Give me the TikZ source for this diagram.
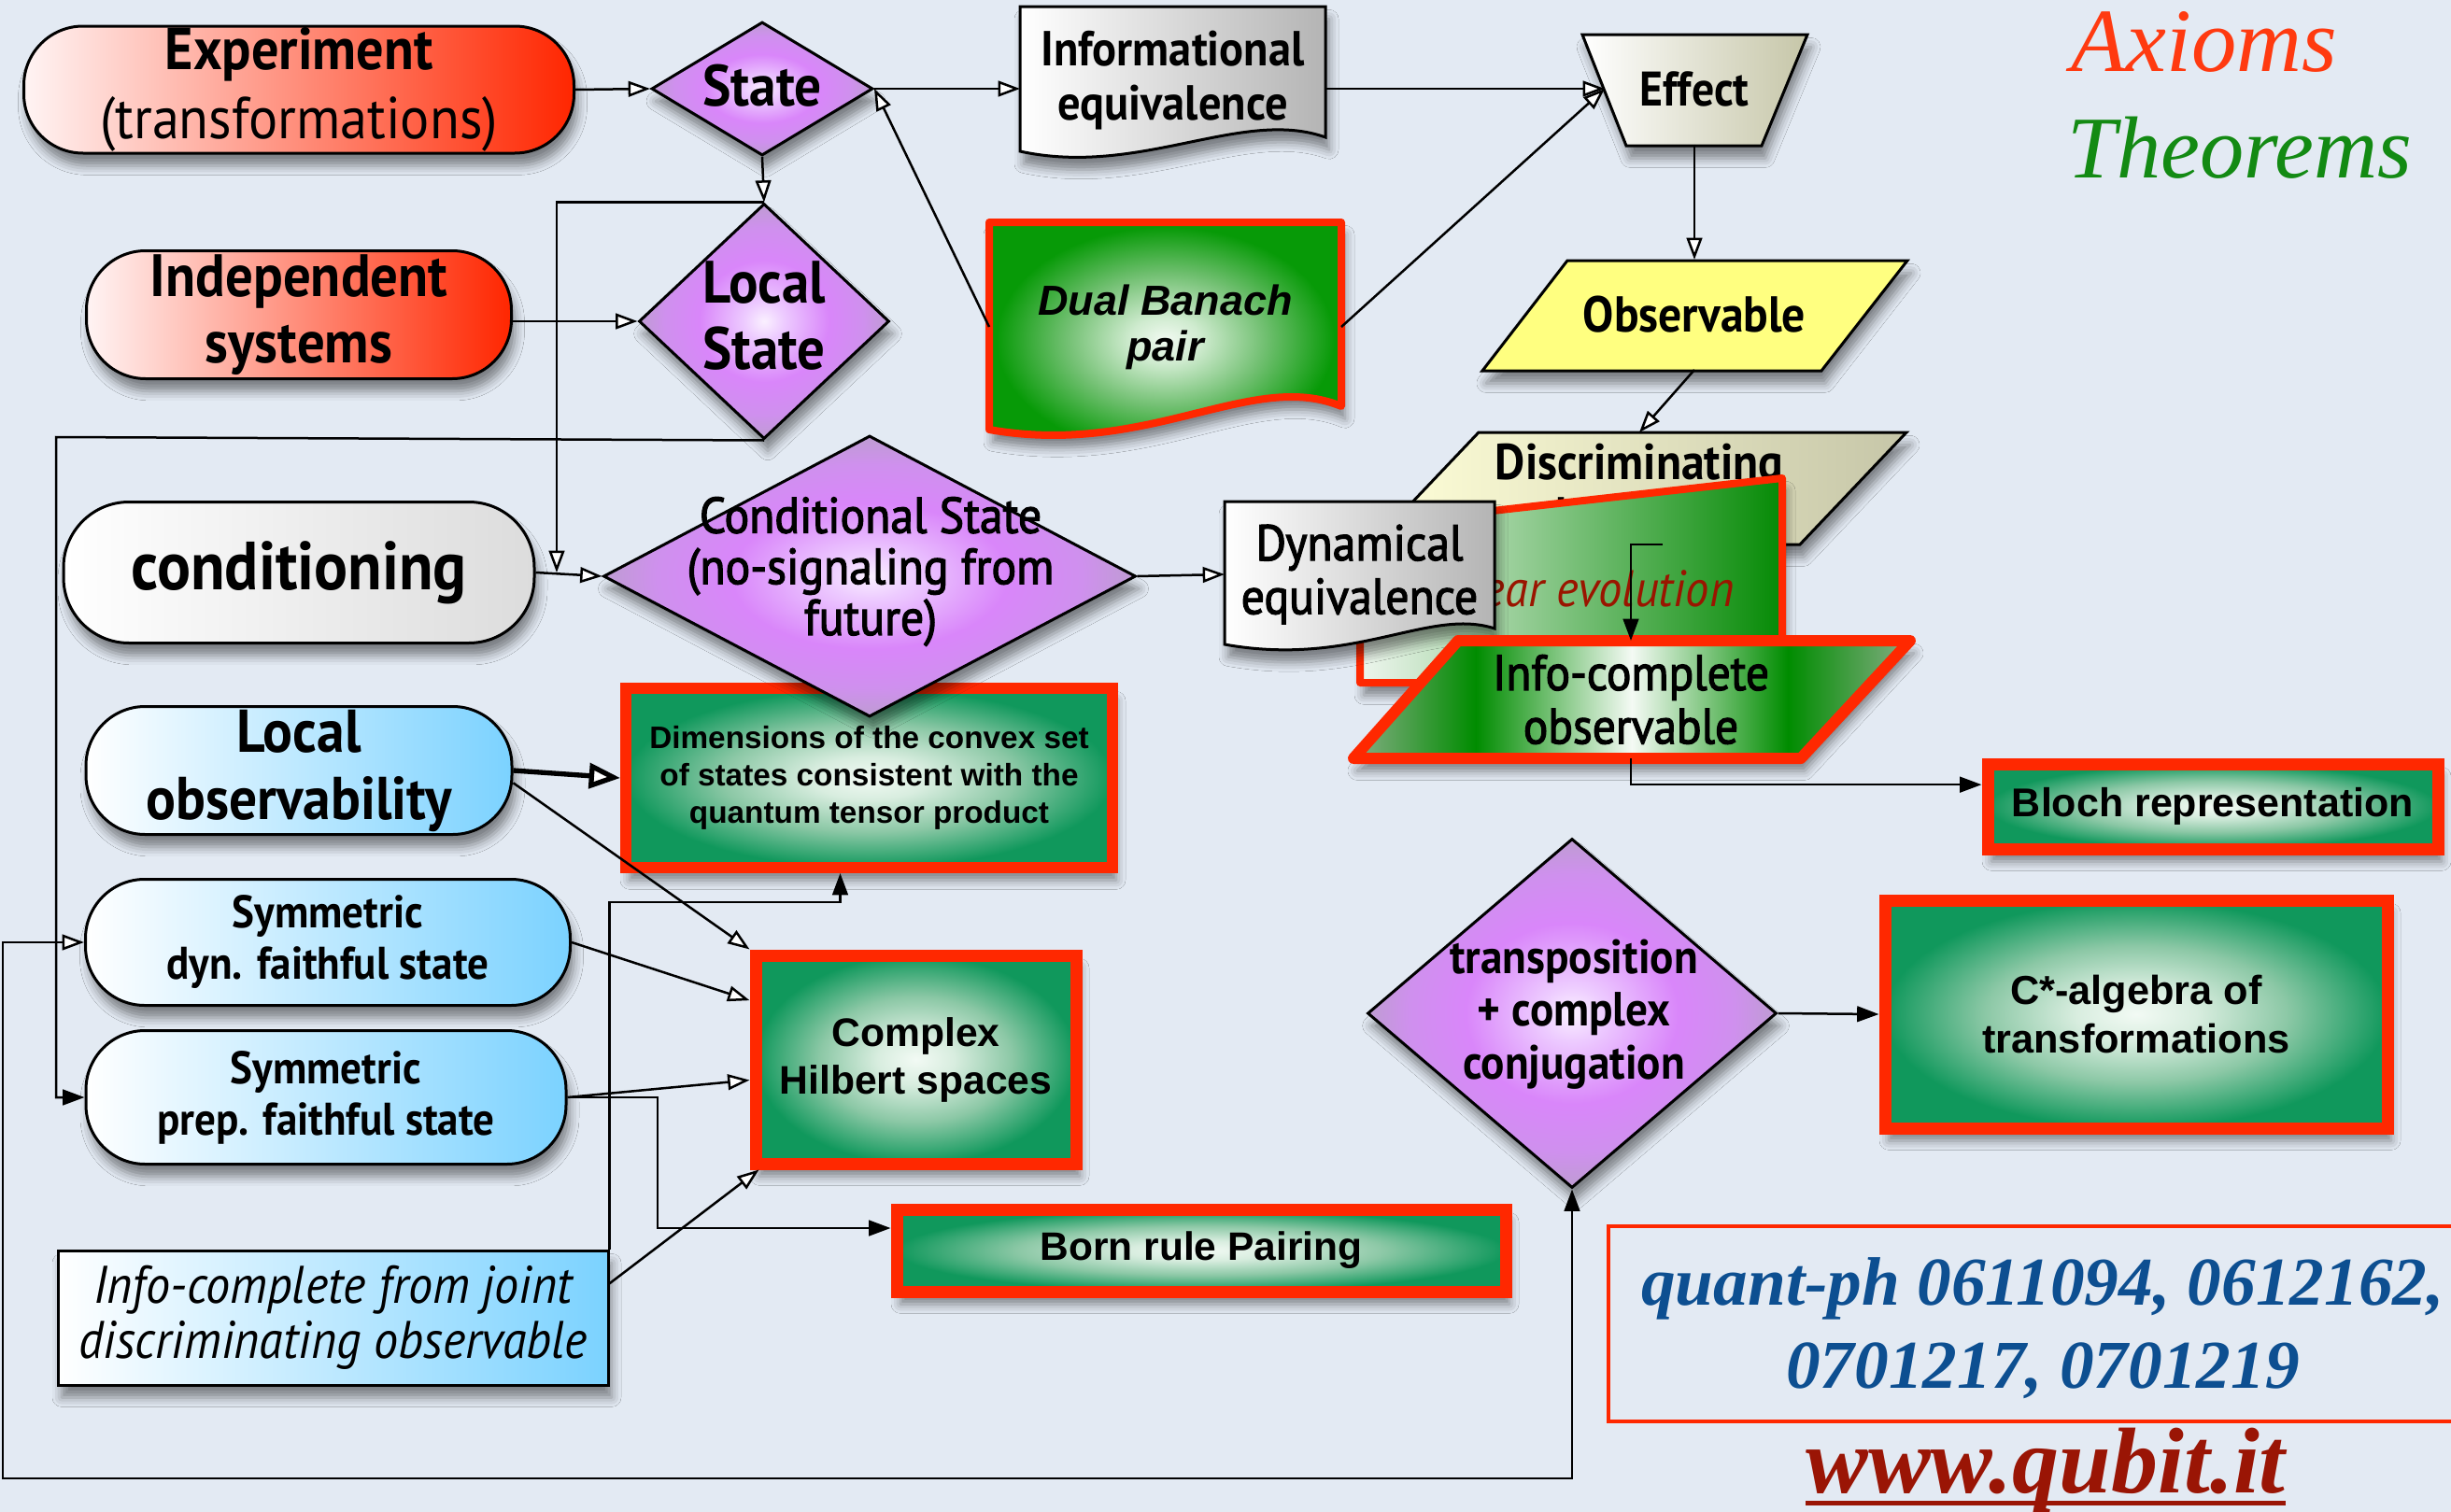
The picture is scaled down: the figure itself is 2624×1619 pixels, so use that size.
\documentclass[tikz,border=0pt]{standalone}
\usepackage{fontspec}
\setmainfont{PT Sans}
\newfontfamily\hum[FakeStretch=0.92]{PT Sans}
\newfontfamily\humm[FakeStretch=0.92,FakeBold=2.2]{PT Sans}
\newfontfamily\ari{Liberation Sans}
\newfontfamily\ser{Liberation Serif}
\usetikzlibrary{shapes.geometric,arrows.meta,shadows.blur}
\newcommand{\fsz}[2]{\fontsize{#1}{#2}\selectfont}
\definecolor{bgc}{HTML}{E3EAF3}
\definecolor{redb}{HTML}{FF2800}
\definecolor{redA}{HTML}{FFF4F4}
\definecolor{redZ}{HTML}{FF2600}
\definecolor{blueZ}{HTML}{7BD2FF}
\definecolor{grayZ}{HTML}{DCDCDC}
\definecolor{grayD}{HTML}{B4B4B4}
\definecolor{yelA}{HTML}{FFFF80}
\definecolor{yelG}{HTML}{C6C6A8}
\definecolor{yelP}{HTML}{FFFFD8}
\definecolor{yelM}{HTML}{FFFF88}
\definecolor{purpA}{HTML}{FAF0FF}
\definecolor{purpB}{HTML}{EDCBFF}
\definecolor{purpC}{HTML}{D986FA}
\definecolor{purpD}{HTML}{CF90EE}
\definecolor{purpE}{HTML}{BE9CD2}
\definecolor{grA}{HTML}{F2FAF4}
\definecolor{grB}{HTML}{D8EDDF}
\definecolor{grC}{HTML}{8CC8A6}
\definecolor{grD}{HTML}{10985C}
\definecolor{gdA}{HTML}{F2FAF2}
\definecolor{gdB}{HTML}{CFEBCF}
\definecolor{gdC}{HTML}{72C072}
\definecolor{gdD}{HTML}{079A07}
\definecolor{icE}{HTML}{86AE86}
\definecolor{icD}{HTML}{008C00}
\definecolor{icW}{HTML}{F4FAF4}
\definecolor{lvA}{HTML}{EEF6EE}
\definecolor{lvZ}{HTML}{058A05}
\definecolor{axc}{HTML}{FF3A10}
\definecolor{thc}{HTML}{138A13}
\definecolor{qpc}{HTML}{0D4F91}
\definecolor{urlc}{HTML}{9A1505}
\definecolor{evc}{HTML}{9A1500}
\pgfdeclareradialshading{purp}{\pgfpoint{0bp}{0bp}}{color(0bp)=(purpA); color(4bp)=(purpB); color(13bp)=(purpC); color(20bp)=(purpD); color(25bp)=(purpE); color(50bp)=(purpE)}
\pgfdeclareradialshading{greenr}{\pgfpoint{0bp}{0bp}}{color(0bp)=(grA); color(6bp)=(grB); color(15bp)=(grC); color(25bp)=(grD); color(50bp)=(grD)}
\pgfdeclareradialshading{greend}{\pgfpoint{0bp}{0bp}}{color(0bp)=(gdA); color(5bp)=(gdB); color(14bp)=(gdC); color(24bp)=(gdD); color(50bp)=(gdD)}
\pgfdeclarehorizontalshading{icshade}{100bp}{color(0bp)=(icE); color(25bp)=(icE); color(36bp)=(icD); color(50bp)=(icW); color(64bp)=(icD); color(75bp)=(icE); color(100bp)=(icE)}
\begin{document}
\begin{tikzpicture}[x=0.3pt,y=-0.3pt,
  wh/.style 2 args={minimum width=#1*0.3pt, minimum height=#2*0.3pt},
  shd/.style={blur shadow={shadow xshift=1.2pt, shadow yshift=-4pt, shadow blur radius=3pt, shadow opacity=45}},
  pill/.style={rectangle, rounded corners=19pt, draw=black, line width=0.9pt, shd, inner sep=0pt, align=center},
  pillred/.style={pill, left color=redA, right color=redZ},
  pillwhite/.style={pill, left color=white, right color=grayZ},
  pillblue/.style={pill, left color=white, right color=blueZ},
  diam/.style={diamond, draw=black, line width=0.9pt, shade, shading=purp, shd, inner sep=0pt},
  gbox/.style={rectangle, draw=redb, line width=3.9pt, shade, shading=greenr, shd, inner sep=0pt, align=center},
  doc/.style={draw=black, line width=0.9pt, left color=white, right color=grayD, shd},
  hid/.style={inner sep=0pt, outer sep=0pt, align=center},
  con/.style={line width=0.75pt, draw=black},
  ot/.style={con, -{Triangle[fill=white, length=7pt, width=5pt]}},
  ft/.style={con, -{Triangle[length=7pt, width=5pt]}}
]
\fill[bgc] (0,0) rectangle (2624,1619);
\useasboundingbox (0,0) rectangle (2624,1619);

% ---- top row
\node[pillred, wh={589}{136}, font=\hum\fsz{19}{22}] (exp) at (320,96) {{\bfseries Experiment}\\(transformations)};
\node[diam, wh={237}{143}] (state) at (816,95) {};
\node[hid, font=\hum\bfseries\fsz{18.7}{21}] (statet) at (816,92) {State};

\path[doc] (1092,7) -- (1419,7) -- (1419,147) .. controls (1330,115) and (1220,190) .. (1092,162) -- cycle;
\node[hid, wh={327}{158}, font=\hum\bfseries\fsz{15.8}{17.6}] (infoeq) at (1255.5,86) {Informational\\equivalence};

\path[draw=black, line width=0.9pt, left color=white, middle color=yellow, right color=yelG, shd] (1694,37) -- (1935,37) -- (1886,156) -- (1741,156) -- cycle;
\node[hid, wh={192}{119}, font=\hum\bfseries\fsz{15.6}{18}] (effect) at (1814,95) {Effect};

\node[hid, font=\ser\itshape\fsz{29}{30}, text=axc, anchor=base] (axioms) at (2360,77) {Axioms};
\node[hid, font=\ser\itshape\fsz{28.3}{30}, text=thc, anchor=base] (theorems) at (2398,190) {Theorems};

% ---- second row
\node[pillred, wh={455}{137}, font=\hum\bfseries\fsz{19.2}{21.5}] (indep) at (320,337) {Independent\\systems};
\node[diam, wh={268}{252}] (lstate) at (818,344) {};
\node[hid, font=\hum\bfseries\fsz{19.2}{21.5}] (lstatet) at (818,338) {Local\\State};

\path[draw=redb, line width=2.4pt, line join=round, shade, shading=greend, shd] (1059,238) -- (1436,238) -- (1436,435) .. controls (1340,395) and (1230,490) .. (1059,460) -- cycle;
\node[hid, wh={377}{220}, font=\ari\bfseries\itshape\fsz{13.5}{14.7}] (dual) at (1247.5,350) {Dual Banach\\pair};

\path[draw=black, line width=0.9pt, fill=yelA, shd] (1678,279) -- (2042,279) -- (1950,397) -- (1587,397) -- cycle;
\node[hid, wh={300}{118}, font=\hum\bfseries\fsz{16.2}{18}] (obs) at (1814,337) {Observable};

\path[draw=black, line width=0.9pt, left color=yelP, middle color=yelM, right color=yelG, shd] (1583,463) -- (2041,463) -- (1927,583) -- (1469,583) -- cycle;
\node[hid, wh={340}{120}, font=\hum\bfseries\fsz{16.2}{17}] (disc) at (1755,523) {Discriminating\\observable};

\path[draw=redb, line width=2.4pt, line join=round, left color=lvA, right color=lvZ, shd] (1456,563) -- (1908,512) -- (1908,731) -- (1456,731) -- cycle;
\node[hid, wh={452}{219}] (linev) at (1682,621.5) {};
\node[hid, font=\hum\itshape\fsz{16.5}{20}, text=evc] (linevt) at (1690,630) {Linear evolution};

\path[doc] (1311,537) -- (1600,537) -- (1600,673) .. controls (1530,650) and (1450,715) .. (1311,690) -- cycle;
\node[hid, wh={289}{156}, font=\humm\fsz{16.2}{17.2}] (dyneq) at (1455.5,615) {Dynamical\\equivalence};

\path[draw=redb, line width=3.6pt, line join=round, shade, shading=icshade, shd] (1561,686) -- (2045,686) -- (1928,812) -- (1449,812) -- cycle;
\node[hid, wh={360}{126}, font=\humm\fsz{16.1}{17.2}] (infoc) at (1746,749) {Info-complete\\observable};

% ---- middle
\node[pillwhite, rounded corners=21pt, wh={504}{151}, font=\hum\bfseries\fsz{21.9}{24}] (condit) at (320,613) {conditioning};
\node[gbox, line width=3.6pt, wh={521}{192}, font=\ari\bfseries\fsz{10}{12}] (dims) at (930.5,833) {Dimensions of the convex set\\of states consistent with the\\quantum tensor product};
\node[diam, wh={570}{301}] (cstate) at (931,617) {};
\node[hid, font=\humm\fsz{16.2}{16.4}] (cstatet) at (932,612) {Conditional State\\(no-signaling from\\future)};

\node[pillblue, wh={456}{137}, font=\hum\bfseries\fsz{19.4}{21.6}] (lobs) at (320,825) {Local\\observability};
\node[pillblue, wh={519}{135}, font=\hum\bfseries\fsz{14.7}{16.5}] (dyn) at (351,1009) {Symmetric\\dyn. faithful state};
\node[pillblue, wh={514}{143}, font=\hum\bfseries\fsz{14.7}{16.5}] (prep) at (349,1175) {Symmetric\\prep. faithful state};

\node[gbox, wh={343}{223}, font=\ari\bfseries\fsz{12.8}{15.3}] (hilb) at (980.5,1134.5) {Complex\\Hilbert spaces};
\node[rectangle, draw=black, line width=0.9pt, left color=white, right color=blueZ, shd, inner sep=0pt, align=center, wh={589}{144}, font=\hum\itshape\fsz{17}{17.7}] (ijoint) at (356.5,1411) {Info-complete from joint\\discriminating observable};
\node[gbox, wh={652}{88}, font=\ari\bfseries\fsz{12.75}{14}] (born) at (1286,1339) {Born rule Pairing};

\node[diam, wh={438}{374}] (trans) at (1683,1085) {};
\node[hid, font=\hum\bfseries\fsz{15.4}{17}] (transt) at (1685,1086) {transposition\\+ complex\\conjugation};
\node[gbox, wh={538}{244}, font=\ari\bfseries\fsz{13}{15.6}] (cstar) at (2287,1086) {C*-algebra of\\transformations};
\node[gbox, wh={482}{91}, font=\ari\bfseries\fsz{12.9}{14}] (bloch) at (2369,863.5) {Bloch representation};

\node[rectangle, draw=redb, line width=1.3pt, inner sep=0pt, wh={938}{209}] (refbox) at (2191,1417.5) {};
\node[hid, font=\ser\bfseries\itshape\fsz{22}{26.7}, text=qpc] (reft) at (2187,1422) {quant-ph 0611094, 0612162,\\0701217, 0701219};
\node[hid, font=\ser\bfseries\itshape\fsz{30}{32}, text=urlc, anchor=base] (url) at (2190,1598) {www.qubit.it};
\draw[urlc, line width=1.3pt] ([yshift=-3.4pt]url.base west) -- ([yshift=-3.4pt]url.base east);

% ---- helper coordinates
\coordinate (cjoin) at (596,613);
\coordinate (busL) at (60,468);
\coordinate (busB) at (3,1583);
\coordinate (kneeB) at (704,0);
\coordinate (kneeD) at (0,966);

% ---- connectors
\draw[ot] (exp.east) -- (state.west);
\draw[ot] (state.east) -- (state.east -| infoeq.west);
\draw[ot] (infoeq.east |- effect.west) -- (effect.west);
\draw[ot] (dual.west) -- (state.east);
\draw[ot] (dual.east) -- (effect.west);
\draw[ot] (effect.south) -- (obs.north);
\draw[ot] (obs.south) -- (disc.north);
\draw[ot] (state.south) -- (lstate.north);
\draw[ot] (indep.east |- lstate.west) -- (lstate.west);
\draw[ot] (lstate.north) -| (cjoin);
\draw[ot] (condit.east) -- (cstate.west);
\draw[ft] (lstate.south) -- (busL) |- (prep.west);
\draw[con, {Triangle[fill=white, length=7pt, width=5pt]}-{Triangle[length=7pt, width=5pt]}] (dyn.west) -| (busB) -| (trans.south);
\draw[con, line width=1.6pt, -{Triangle[fill=white, length=10pt, width=8pt]}] (lobs.east) -- (dims.west);
\draw[ot] ([yshift=-4pt]lobs.east) -- (hilb.north west);
\draw[ot] (dyn.east) -- ([yshift=19pt]hilb.west);
\draw[ot] (prep.east) -- ([yshift=-6.6pt]hilb.west);
\draw[ft] (prep.east) -- (prep.east -| kneeB) |- ([yshift=7.2pt]born.west);
\draw[ot] ([yshift=11pt]ijoint.east) -- ([xshift=3pt]hilb.south west);
\draw[ft] (ijoint.north east) -- (ijoint.north east |- kneeD) -| ([xshift=-9.3pt]dims.south);
\draw[ot] (cstate.east) -- (dyneq.west);
\draw[ft] ([xshift=7.5pt]disc.south) -- (disc.south -| infoc.north) -- (infoc.north);
\draw[ft] (infoc.south) |- ([yshift=7pt]bloch.west);
\draw[ft] (trans.east) -- (cstar.west);
\end{tikzpicture}
\end{document}
